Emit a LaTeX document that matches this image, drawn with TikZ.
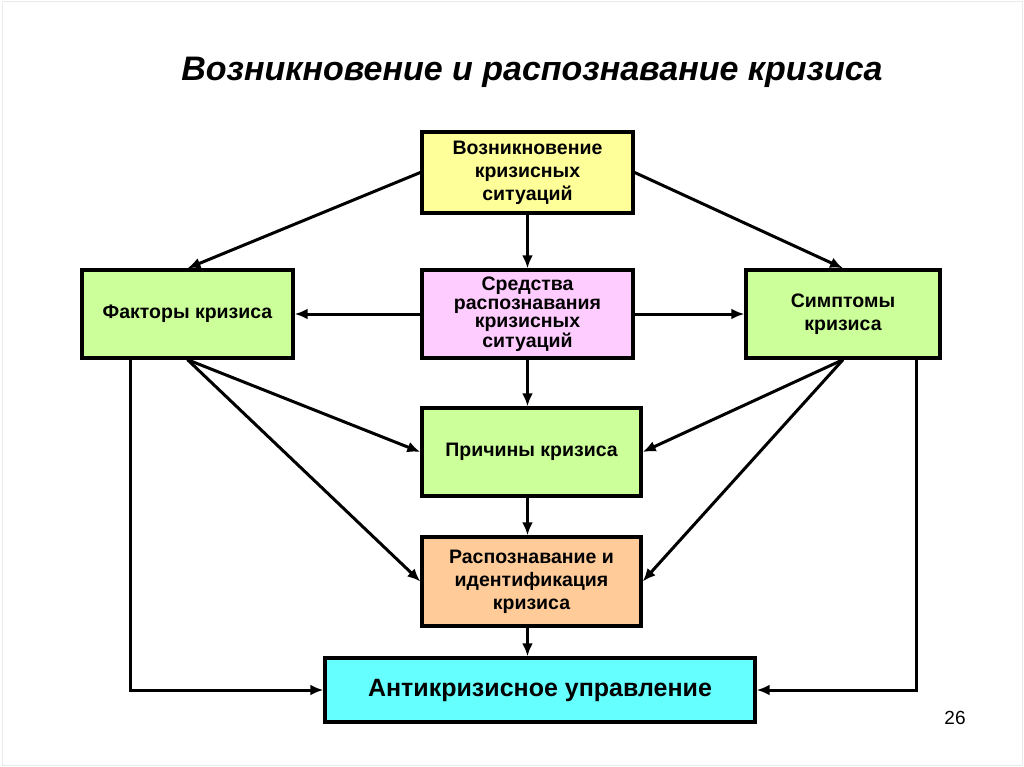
\documentclass[tikz,border=0pt]{standalone}
\usepackage{fontspec}
\setmainfont{Liberation Sans}
\usetikzlibrary{arrows.meta}

\definecolor{boxyellow}{HTML}{FFFF99}
\definecolor{boxpink}{HTML}{FFCCFF}
\definecolor{boxgreen}{HTML}{CCFF99}
\definecolor{boxorange}{HTML}{FFCC99}
\definecolor{boxcyan}{HTML}{66FFFF}

\begin{document}
\begin{tikzpicture}[x=1pt, y=-1pt,
    box/.style={draw, line width=3.4pt, inner sep=0pt, align=center,
        font=\fontsize{19.5}{23}\selectfont\bfseries},
    link/.style={line width=3pt, -{Latex[length=13pt,width=11pt]}}]
    \useasboundingbox (0,0) rectangle (1024,767);
    \draw[black!8, line width=1pt] (2,2) rectangle (1022,765);

    \node[font=\fontsize{34}{40}\selectfont\bfseries\itshape] (title) at (532,72) {Возникновение и распознавание кризиса};

    \node[box, fill=boxyellow, minimum width=211, minimum height=81] (vozn) at (527.5,172.5) {Возникновение\\кризисных\\ситуаций};
    \node[box, fill=boxpink,   minimum width=211, minimum height=88,
        font=\fontsize{19.5}{18.5}\selectfont\bfseries] (sredstva) at (527.5,314) {Средства\\распознавания\\кризисных\\ситуаций};
    \node[box, fill=boxgreen,  minimum width=211, minimum height=88] (faktory) at (187.5,314) {Факторы кризиса};
    \node[box, fill=boxgreen,  minimum width=194, minimum height=88] (simptomy) at (843,314) {Симптомы\\кризиса};
    \node[box, fill=boxgreen,  minimum width=219, minimum height=88] (prichiny) at (531.5,452) {Причины кризиса};
    \node[box, fill=boxorange, minimum width=219, minimum height=89] (raspozn) at (531.5,581.5) {Распознавание и\\идентификация\\кризиса};
    \node[box, fill=boxcyan,   minimum width=430, minimum height=64,
        font=\fontsize{25}{30}\selectfont\bfseries] (anti) at (540,690) {Антикризисное управление};

    \node[font=\fontsize{19}{23}\selectfont] (page) at (955,718) {26};

    \draw[link] (vozn.west) -- (faktory.north);
    \draw[link] (vozn.east) -- (simptomy.north);
    \draw[link] (vozn) -- (sredstva);
    \draw[link] (sredstva) -- (faktory);
    \draw[link] (sredstva) -- (simptomy);
    \draw[link] (sredstva) -- (prichiny.north -| sredstva);
    \draw[link] (faktory.south) -- (prichiny.west);
    \draw[link] (faktory.south) -- (raspozn.west);
    \draw[link] (simptomy.south) -- (prichiny.east);
    \draw[link] (simptomy.south) -- (raspozn.east);
    \draw[link] (prichiny.south -| sredstva) -- (raspozn.north -| sredstva);
    \draw[link] (raspozn.south -| sredstva) -- (anti.north -| sredstva);

    \coordinate (fdown) at (130,358);
    \coordinate (sdown) at (916,358);
    \draw[link] (fdown) |- (anti.west);
    \draw[link] (sdown) |- (anti.east);
\end{tikzpicture}
\end{document}
